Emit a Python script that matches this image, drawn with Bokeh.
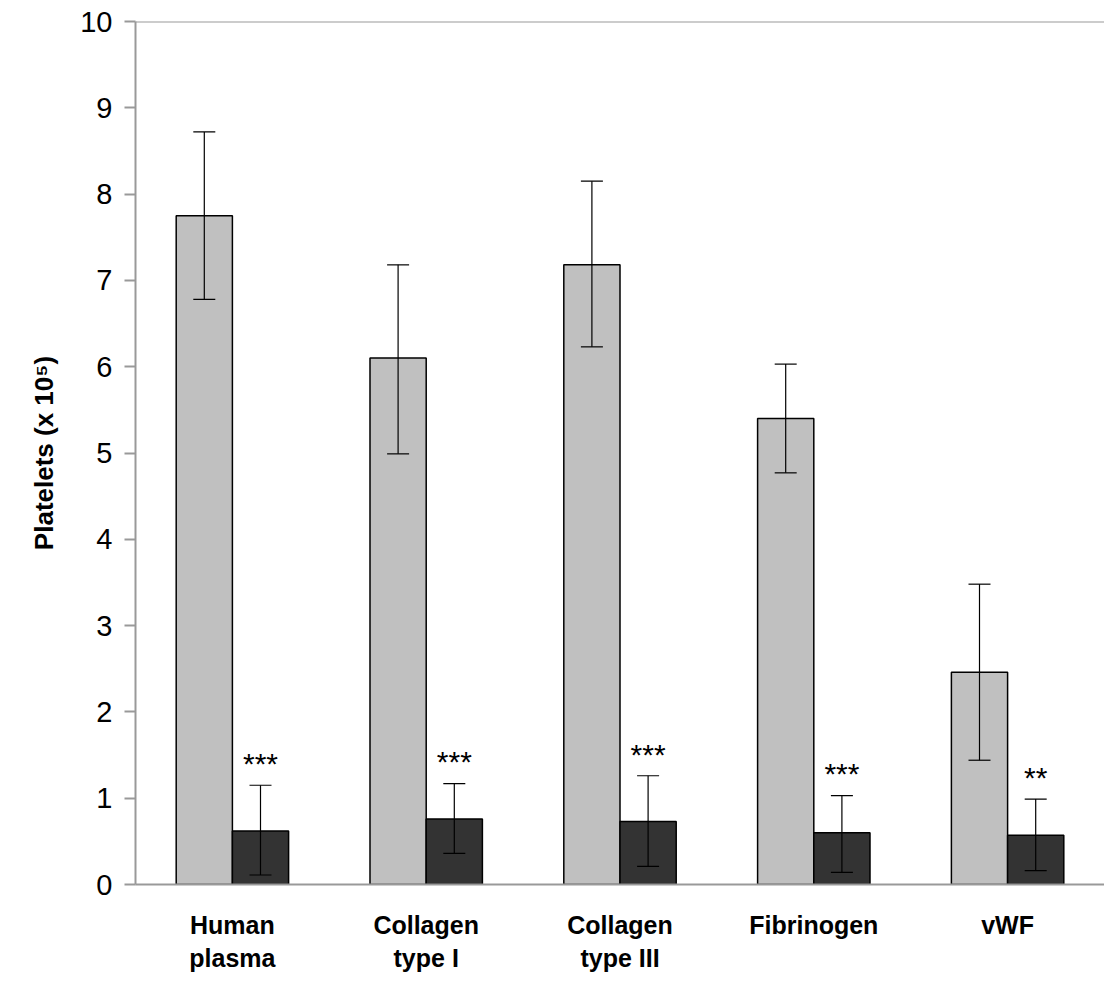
from bokeh.plotting import figure
from bokeh.models import FixedTicker, Span, Whisker, ColumnDataSource
from bokeh.core.properties import value
from bokeh.embed import file_html
from bokeh.resources import INLINE

categories = ["Human\nplasma", "Collagen\ntype I", "Collagen\ntype III", "Fibrinogen", "vWF"]
light_vals = [7.75, 6.10, 7.18, 5.40, 2.46]
light_upper = [8.72, 7.18, 8.15, 6.03, 3.48]
light_lower = [6.78, 4.99, 6.23, 4.77, 1.44]
dark_vals = [0.62, 0.76, 0.73, 0.60, 0.57]
dark_upper = [1.15, 1.17, 1.26, 1.03, 0.99]
dark_lower = [0.11, 0.36, 0.21, 0.14, 0.16]
stars = ["***", "***", "***", "***", "**"]

centers = [i + 0.5 for i in range(len(categories))]
bw = 0.29
xl = [c - bw / 2 for c in centers]
xd = [c + bw / 2 for c in centers]

p = figure(width=1104, height=975, x_range=(0, 5), y_range=(0, 10),
           output_backend="svg", toolbar_location=None,
           min_border_left=135, min_border_right=0, min_border_top=21, min_border_bottom=79)
p.outline_line_color = None
p.grid.visible = False
p.background_fill_color = "white"

sl = ColumnDataSource(dict(x=xl, top=light_vals, up=light_upper, lo=light_lower))
sd = ColumnDataSource(dict(x=xd, top=dark_vals, up=dark_upper, lo=dark_lower,
                           sy=[u + 0.06 for u in dark_upper], st=stars))
p.vbar(x="x", top="top", width=bw, source=sl, fill_color="#c0c0c0", line_color="black", line_width=1.5)
p.vbar(x="x", top="top", width=bw, source=sd, fill_color="#333333", line_color="black", line_width=1.5)
for s in (sl, sd):
    w = Whisker(base="x", upper="up", lower="lo", source=s, line_color="black", line_width=1.2, level="overlay")
    w.upper_head.size = 22; w.lower_head.size = 22
    w.upper_head.line_width = 1.2; w.lower_head.line_width = 1.2
    p.add_layout(w)
p.text(x="x", y="sy", text="st", source=sd, text_align="center", text_baseline="bottom",
       text_font_size="30px", text_font=value("Liberation Sans"), text_color="black")

p.add_layout(Span(location=10, dimension="width", line_color="#999999", line_width=2))

p.yaxis.ticker = FixedTicker(ticks=list(range(11)))
p.yaxis.axis_line_color = "#999999"
p.yaxis.axis_line_width = 2
p.yaxis.major_tick_line_color = "#999999"
p.yaxis.major_tick_line_width = 2
p.yaxis.major_tick_out = 11
p.yaxis.major_tick_in = 0
p.yaxis.minor_tick_line_color = None
p.yaxis.major_label_standoff = 12
p.yaxis.major_label_text_font = "Liberation Sans"
p.yaxis.major_label_text_font_size = "29px"
p.yaxis.major_label_text_color = "black"
p.yaxis.axis_label = "Platelets (x 10⁵)"
p.yaxis.axis_label_text_font = "Liberation Sans"
p.yaxis.axis_label_text_font_style = "bold"
p.yaxis.axis_label_text_font_size = "26px"
p.yaxis.axis_label_text_color = "black"
p.yaxis.axis_label_standoff = 18

p.xaxis.ticker = FixedTicker(ticks=centers)
p.xaxis.major_label_overrides = {c: n for c, n in zip(centers, categories)}
p.xaxis.axis_line_color = "#999999"
p.xaxis.axis_line_width = 2
p.xaxis.major_tick_line_color = None
p.xaxis.minor_tick_line_color = None
p.xaxis.major_label_standoff = 20
p.xaxis.major_label_text_font = "Liberation Sans"
p.xaxis.major_label_text_font_style = "bold"
p.xaxis.major_label_text_font_size = "25px"
p.xaxis.major_label_text_color = "black"

open("out.html", "w").write(file_html(p, INLINE))
